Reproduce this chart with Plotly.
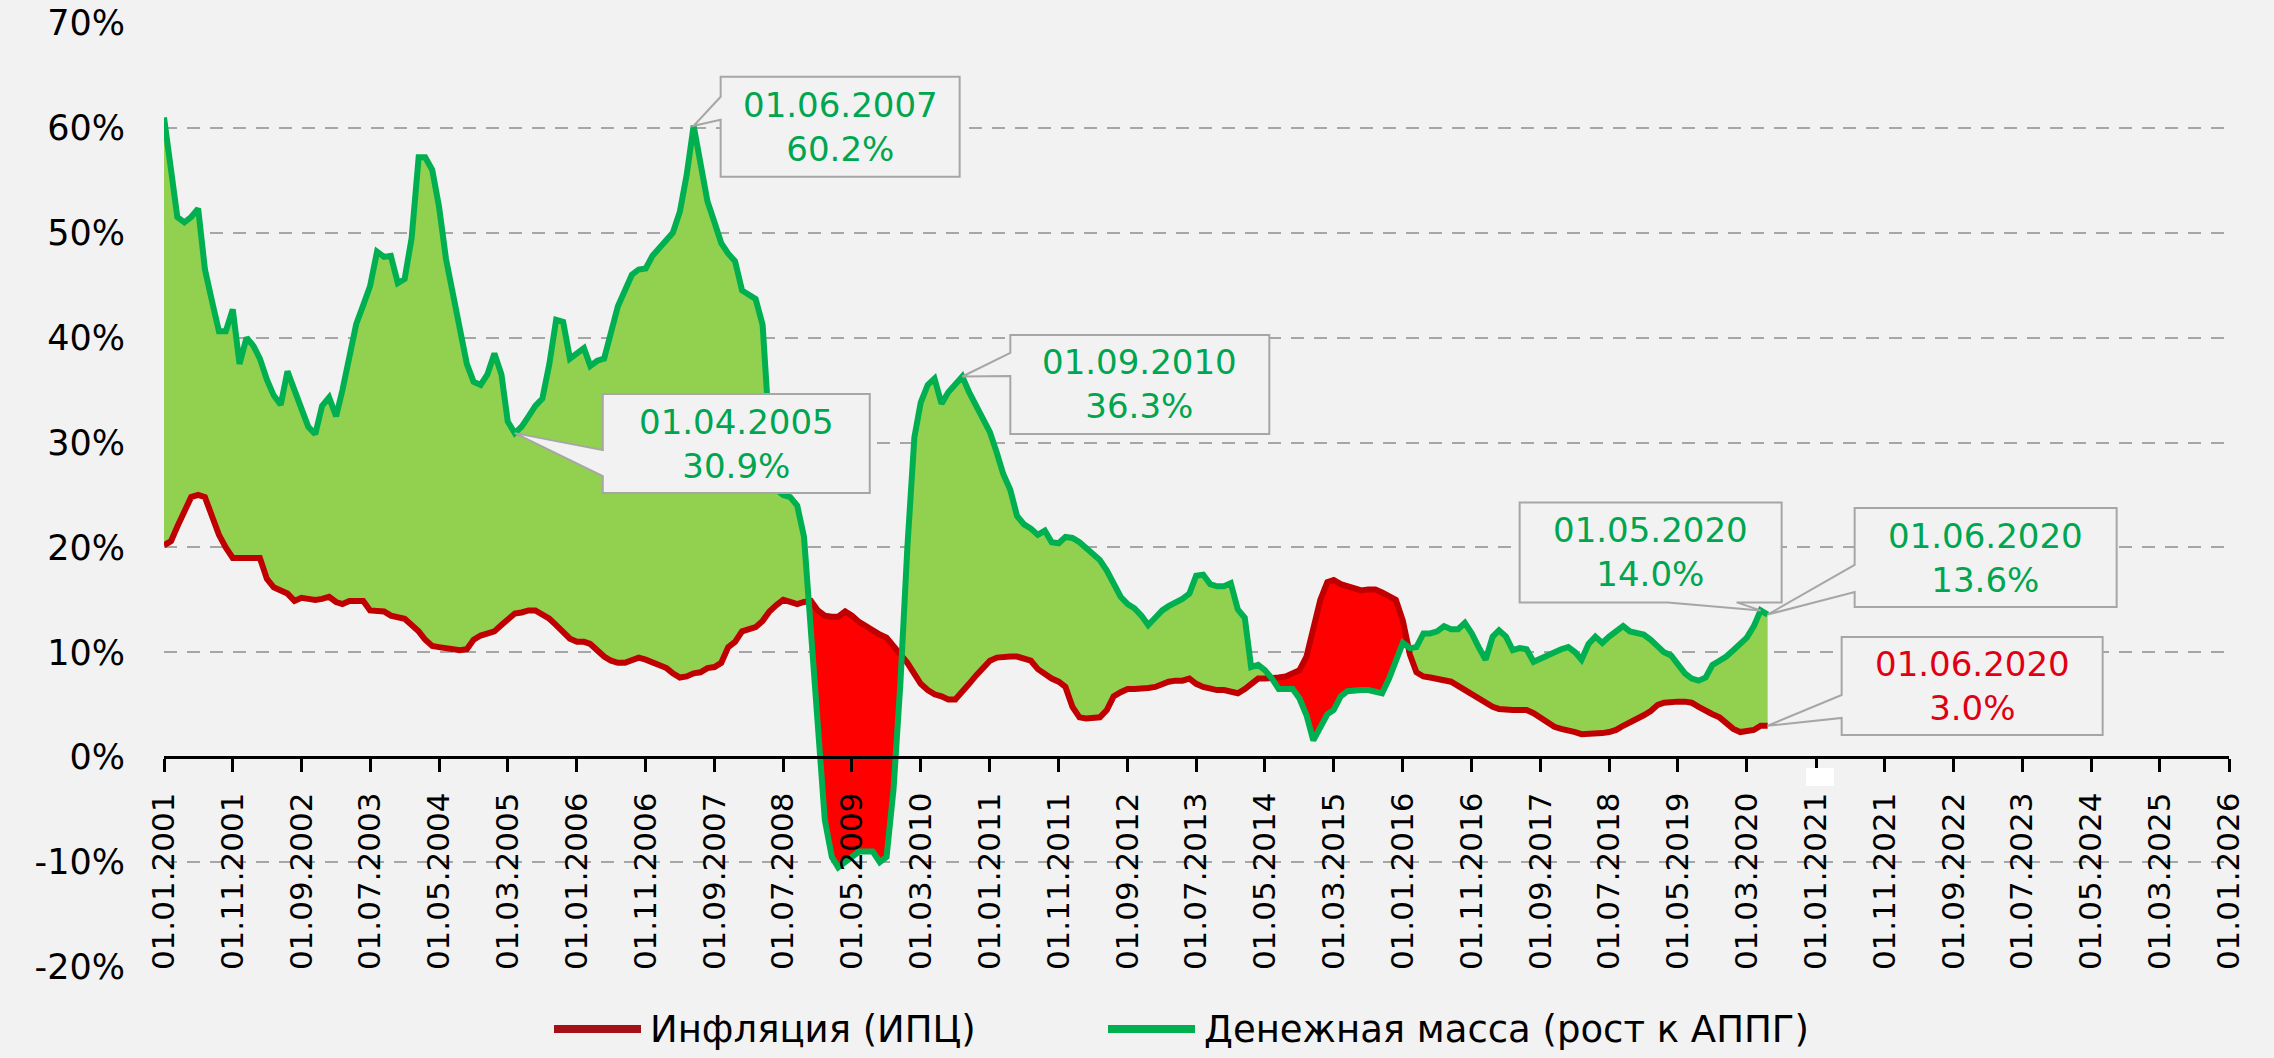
import numpy as np
import pandas as pd
import plotly.graph_objects as go

# ---------------- data ----------------
start_month = "2001-01-01"

# Inflation (CPI, % y/y), monthly from 01.2001 to 06.2020
inflation = [
    20.2, 20.6, 22.0, 23.5, 24.8, 25.0, 24.8, 23.0, 21.2, 20.0, 19.0, 19.0,   # 2001
    19.0, 19.0, 19.0, 17.0, 16.2, 15.9, 15.6, 14.9, 15.2, 15.1, 15.0, 15.1,   # 2002
    15.3, 14.8, 14.6, 14.9, 14.9, 14.9, 14.0, 13.9, 13.9, 13.5, 13.3, 13.2,   # 2003
    12.6, 12.0, 11.2, 10.6, 10.5, 10.4, 10.3, 10.2, 10.3, 11.2, 11.6, 11.8,   # 2004
    12.0, 12.6, 13.2, 13.7, 13.8, 14.0, 14.0, 13.6, 13.2, 12.6, 12.0, 11.3,   # 2005
    11.0, 11.0, 10.8, 10.2, 9.6, 9.2, 9.0, 9.0, 9.3, 9.5, 9.3, 9.0,           # 2006
    8.8, 8.5, 8.0, 7.6, 7.7, 8.0, 8.1, 8.5, 8.6, 9.0, 10.5, 11.0,             # 2007
    12.0, 12.2, 12.4, 13.0, 13.9, 14.5, 15.0, 14.8, 14.6, 14.8, 14.9, 14.0,   # 2008
    13.5, 13.4, 13.4, 13.9, 13.5, 12.9, 12.5, 12.0, 11.7, 11.4, 10.5, 9.8,    # 2009
    9.0, 8.0, 7.0, 6.4, 6.0, 5.8, 5.5, 5.5, 6.2, 7.0, 7.8, 8.5,               # 2010
    9.2, 9.5, 9.6, 9.6, 9.6, 9.4, 9.2, 8.4, 7.9, 7.5, 7.2, 6.7,               # 2011
    4.8, 3.8, 3.7, 3.7, 3.8, 4.5, 5.8, 6.2, 6.5, 6.5, 6.5, 6.6,               # 2012
    6.7, 7.0, 7.2, 7.3, 7.3, 7.5, 7.0, 6.7, 6.5, 6.4, 6.4, 6.3,               # 2013
    6.1, 6.5, 6.9, 7.5, 7.5, 7.5, 7.6, 7.7, 8.0, 8.3, 9.6, 12.1,              # 2014
    15.0, 16.7, 16.9, 16.5, 16.3, 16.0, 15.9, 16.0, 16.0, 15.7, 15.4, 15.0,   # 2015
    13.0, 9.8, 8.1, 7.7, 7.6, 7.5, 7.4, 7.2, 6.8, 6.4, 6.1, 5.7,              # 2016
    5.2, 4.8, 4.6, 4.5, 4.5, 4.5, 4.5, 4.2, 3.8, 3.3, 2.9, 2.7,               # 2017
    2.6, 2.4, 2.2, 2.2, 2.2, 2.3, 2.4, 2.6, 3.0, 3.3, 3.6, 4.0,               # 2018
    4.4, 5.0, 5.2, 5.3, 5.3, 5.3, 5.2, 4.8, 4.4, 4.1, 3.8, 3.2,               # 2019
    2.7, 2.4, 2.5, 2.6, 3.0, 3.0,                                             # 2020
]

# Money supply growth (% y/y), monthly from 01.2001 to 06.2020
money_supply = [
    61.0, 56.0, 51.5, 51.0, 51.5, 52.3, 46.5, 43.5, 40.6, 40.6, 42.7, 37.5,   # 2001
    40.0, 39.2, 38.0, 36.0, 34.5, 33.6, 36.8, 35.0, 33.0, 31.5, 30.8, 33.5,   # 2002
    34.3, 32.5, 35.0, 38.5, 41.3, 43.1, 44.9, 48.2, 47.7, 47.8, 45.2, 45.6,   # 2003
    49.5, 57.2, 57.2, 56.0, 52.5, 47.5, 44.0, 40.6, 37.5, 35.8, 35.5, 36.5,   # 2004
    38.5, 36.5, 32.0, 30.9, 31.5, 32.5, 33.5, 34.2, 37.5, 41.7, 41.5, 38.0,   # 2005
    38.5, 39.0, 37.3, 37.8, 38.0, 40.5, 43.0, 44.5, 46.0, 46.5, 46.6, 47.8,   # 2006
    48.5, 49.2, 50.0, 52.0, 55.5, 60.2, 57.0, 53.0, 51.0, 49.0, 48.0, 47.3,   # 2007
    44.5, 44.0, 43.7, 41.2, 31.0, 25.5, 25.0, 24.8, 24.0, 21.0, 12.0, 2.0,    # 2008
    -6.0, -9.5, -10.5, -10.0, -9.5, -9.0, -9.0, -9.0, -10.0, -9.5, -3.0, 7.0, # 2009
    20.0, 30.5, 33.8, 35.5, 36.1, 33.7, 34.8, 35.5, 36.3, 34.8, 33.5, 32.5,   # 2010
    31.0, 29.0, 27.0, 25.5, 23.0, 22.2, 21.8, 21.2, 21.6, 20.5, 20.4, 21.0,   # 2011
    20.9, 20.5, 19.9, 19.4, 18.8, 17.8, 16.5, 15.3, 14.6, 14.2, 13.5, 12.6,   # 2012
    13.3, 14.0, 14.4, 14.7, 15.1, 15.6, 17.3, 17.4, 16.5, 16.3, 16.3, 16.6,   # 2013
    14.1, 13.3, 8.6, 8.8, 8.3, 7.5, 6.5, 6.5, 6.5, 5.6, 4.0, 1.6,             # 2014
    3.0, 4.1, 4.5, 5.8, 6.3, 6.4, 6.4, 6.4, 6.2, 6.1, 7.5, 9.0,               # 2015
    10.9, 10.4, 10.5, 11.8, 11.8, 12.0, 12.5, 12.2, 12.2, 12.8, 11.8, 10.5,   # 2016
    9.3, 11.5, 12.1, 11.5, 10.2, 10.4, 10.3, 9.1, 9.4, 9.7, 10.1, 10.3,       # 2017
    10.5, 10.0, 9.3, 10.8, 11.5, 10.9, 11.5, 12.0, 12.5, 12.0, 11.8, 11.7,    # 2018
    11.2, 10.5, 10.0, 9.7, 8.8, 8.0, 7.5, 7.3, 7.6, 8.8, 9.2, 9.6,            # 2019
    10.2, 10.9, 11.4, 12.5, 14.0, 13.6,                                       # 2020
]

tick_labels = [
    "01.01.2001", "01.11.2001", "01.09.2002", "01.07.2003", "01.05.2004",
    "01.03.2005", "01.01.2006", "01.11.2006", "01.09.2007", "01.07.2008",
    "01.05.2009", "01.03.2010", "01.01.2011", "01.11.2011", "01.09.2012",
    "01.07.2013", "01.05.2014", "01.03.2015", "01.01.2016", "01.11.2016",
    "01.09.2017", "01.07.2018", "01.05.2019", "01.03.2020", "01.01.2021",
    "01.11.2021", "01.09.2022", "01.07.2023", "01.05.2024", "01.03.2025",
    "01.01.2026",
]

y_ticks = [-20, -10, 0, 10, 20, 30, 40, 50, 60, 70]

callout_dates = ["2007-06-01", "2005-04-01", "2010-09-01", "2020-05-01", "2020-06-01", "2020-06-01"]
callout_values = [60.2, 30.9, 36.3, 14.0, 13.6, 3.0]
callout_series = ["money", "money", "money", "money", "money", "inflation"]

name_inflation = "Инфляция (ИПЦ)"
name_money = "Денежная масса (рост к АППГ)"

# ---------------- styles ----------------
BG = "#f2f2f2"
GREEN_LINE = "#00b050"
GREEN_FILL = "#92d050"
RED_LINE = "#c00000"
RED_FILL = "#ff0000"
RED_LEGEND = "#a50f17"
GREEN_TEXT = "#00a54f"
RED_TEXT = "#e00012"
BOX_LINE = "#a6a6a6"
FONT = "DejaVu Sans"

W, H = 2274, 1058
ML, MR, MT, MB = 164, 45, 23, 91
PW, PH = W - ML - MR, H - MT - MB


def px_to_paper_x(px):
    return (px - ML) / PW


def px_to_paper_y(py):
    return (H - MB - py) / PH


# ---------------- build fills (with crossing points) ----------------
dates = pd.date_range(start_month, periods=len(money_supply), freq="MS")
t = dates.values.astype("datetime64[ms]").astype(np.int64).astype(float)
g = np.array(money_supply, dtype=float)
r = np.array(inflation, dtype=float)

xs, gs, rs = [t[0]], [g[0]], [r[0]]
for i in range(1, len(t)):
    d0 = g[i - 1] - r[i - 1]
    d1 = g[i] - r[i]
    if d0 * d1 < 0:
        f = d0 / (d0 - d1)
        xc = t[i - 1] + f * (t[i] - t[i - 1])
        yc = r[i - 1] + f * (r[i] - r[i - 1])
        xs.append(xc); gs.append(yc); rs.append(yc)
    xs.append(t[i]); gs.append(g[i]); rs.append(r[i])
xs = pd.to_datetime(np.array(xs), unit="ms")
gs = np.array(gs); rs = np.array(rs)
top = np.maximum(gs, rs)

fig = go.Figure()
base_line = dict(width=0, color="rgba(0,0,0,0)")
fig.add_trace(go.Scatter(x=xs, y=rs, mode="lines", line=base_line, showlegend=False, hoverinfo="skip"))
fig.add_trace(go.Scatter(x=xs, y=top, mode="lines", line=base_line, fill="tonexty",
                         fillcolor=GREEN_FILL, showlegend=False, hoverinfo="skip"))
fig.add_trace(go.Scatter(x=xs, y=gs, mode="lines", line=base_line, showlegend=False, hoverinfo="skip"))
fig.add_trace(go.Scatter(x=xs, y=top, mode="lines", line=base_line, fill="tonexty",
                         fillcolor=RED_FILL, showlegend=False, hoverinfo="skip"))

fig.add_trace(go.Scatter(x=dates, y=inflation, mode="lines", name=name_inflation,
                         line=dict(color=RED_LINE, width=6), showlegend=False))
fig.add_trace(go.Scatter(x=dates, y=money_supply, mode="lines", name=name_money,
                         line=dict(color=GREEN_LINE, width=6), showlegend=False))

# ---------------- callouts ----------------
# geometry in pixels relative to the labelled point (y up)
callout_paths = [
    "M27,49 L266,49 L266,-51 L27,-51 L27,6 L0,0 L27,29 Z",
    "M88,39 L355,39 L355,-60 L88,-60 L88,-43 L0,0 L88,-17 Z",
    "M48,41.5 L307,41.5 L307,-57.5 L48,-57.5 L48,0.5 L0,0 L48,23.5 Z",
    "M-241,108 L21,108 L21,8 L-24,8 L0,0 L-93,8 L-241,8 Z",
    "M87,106.6 L349,106.6 L349,7.6 L87,7.6 L87,22.6 L0,0 L87,49.6 Z",
    "M74,88.8 L335,88.8 L335,-9.2 L74,-9.2 L74,7.8 L0,0 L74,30.8 Z",
]
callout_text_shift = [(146.5, -1), (221.5, -10.5), (177.5, -8), (-110, 58), (218, 57), (204.5, 39.8)]

shapes = []
annotations = []
for d, v, s, path, (dx, dy) in zip(callout_dates, callout_values, callout_series,
                                   callout_paths, callout_text_shift):
    shapes.append(dict(type="path", xref="x", yref="y", xsizemode="pixel", ysizemode="pixel",
                       xanchor=d, yanchor=v, path=path, fillcolor=BG,
                       line=dict(color=BOX_LINE, width=2), layer="above"))
    label = pd.Timestamp(d).strftime("%d.%m.%Y") + "<br>" + f"{v:.1f}%"
    annotations.append(dict(x=d, y=v, xref="x", yref="y", text=label, showarrow=False,
                            xshift=dx, yshift=dy, xanchor="center", yanchor="middle",
                            align="center",
                            font=dict(family=FONT, size=34,
                                      color=GREEN_TEXT if s == "money" else RED_TEXT)))

# white glitch patch over one axis label (as in original)
shapes.append(dict(type="rect", xref="paper", yref="paper",
                   x0=px_to_paper_x(1806), x1=px_to_paper_x(1834),
                   y0=px_to_paper_y(786), y1=px_to_paper_y(768),
                   fillcolor="#ffffff", line=dict(width=0), layer="above"))

# ---------------- legend (drawn manually at the bottom) ----------------
legend_y = px_to_paper_y(1029)
legend_items = [
    (name_inflation, RED_LEGEND, 554, 641, 648),
    (name_money, GREEN_LINE, 1108, 1195, 1202),
]
for name, color, x0, x1, xt in legend_items:
    shapes.append(dict(type="line", xref="paper", yref="paper",
                       x0=px_to_paper_x(x0), x1=px_to_paper_x(x1), y0=legend_y, y1=legend_y,
                       line=dict(color=color, width=8)))
    annotations.append(dict(x=px_to_paper_x(xt), y=legend_y, xref="paper", yref="paper",
                            text=name, showarrow=False, xanchor="left", yanchor="middle",
                            font=dict(family=FONT, size=37, color="#000000")))

tick_vals = pd.to_datetime(tick_labels, format="%d.%m.%Y")
y_text = [f"{v}%" for v in y_ticks]

fig.update_layout(
    width=W, height=H,
    margin=dict(l=ML, r=MR, t=MT, b=MB, autoexpand=False),
    paper_bgcolor=BG, plot_bgcolor=BG,
    font=dict(family=FONT, color="#000000"),
    shapes=shapes, annotations=annotations,
    showlegend=False,
    xaxis=dict(type="date", range=[start_month, "2026-01-01"], anchor="free",
               position=(0 - y_ticks[0]) / (y_ticks[-1] - y_ticks[0]),
               tickvals=tick_vals, ticktext=tick_labels, tickangle=-90,
               tickfont=dict(family=FONT, size=31, color="#000000"),
               ticks="outside", ticklen=13, tickwidth=2.5, tickcolor="#000000",
               showline=True, linecolor="#000000", linewidth=3,
               showgrid=False, zeroline=False, automargin=False, ticklabelstandoff=8),
    yaxis=dict(range=[y_ticks[0], y_ticks[-1]], tickvals=y_ticks, ticktext=y_text,
               tickfont=dict(family=FONT, size=35, color="#000000"),
               showgrid=True, gridcolor=BOX_LINE, gridwidth=1.5, griddash="13px,10px",
               zeroline=False, showline=False, ticks="", automargin=False,
               ticklabelstandoff=38),
)

fig.write_html("out.html", config={"displayModeBar": False},
               post_script="document.body.style.margin='0';document.body.style.overflow='hidden';")
